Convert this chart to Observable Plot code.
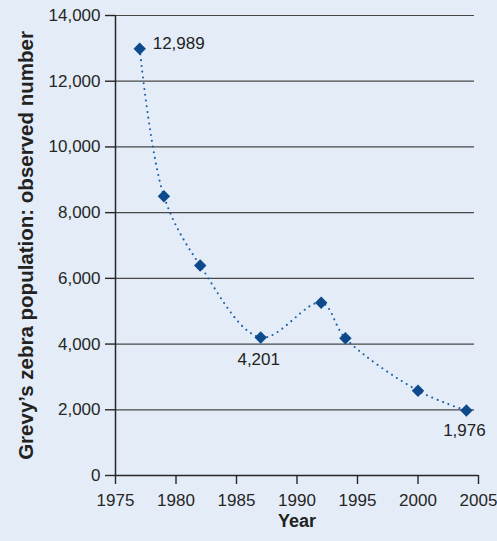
<!DOCTYPE html>
<html>
<head>
<meta charset="utf-8">
<script src="https://cdn.jsdelivr.net/npm/d3@7"></script>
<script src="https://cdn.jsdelivr.net/npm/@observablehq/plot@0.6"></script>
<style>
  html, body { margin: 0; padding: 0; background: #e4edf7; }
  #chart svg { display: block; }
</style>
</head>
<body>
<div id="chart"></div>
<script>
// ---- data ----
const years = [1977, 1979, 1982, 1987, 1992, 1994, 2000, 2004];
const population = [12989, 8500, 6390, 4201, 5260, 4175, 2580, 1976];
const yTicks = [0, 2000, 4000, 6000, 8000, 10000, 12000, 14000];
const xTicks = [1975, 1980, 1985, 1990, 1995, 2000, 2005];
const labelYears = [1977, 1987, 2004];
const labelTexts = ["12,989", "4,201", "1,976"];
const xTitle = "Year";
const yTitle = "Grevy\u2019s zebra population: observed number";

const data = years.map((year, i) => ({year, population: population[i]}));
const labelled = labelYears.map((year, i) => ({
  year,
  population: population[years.indexOf(year)],
  text: labelTexts[i]
}));

const font = "'Liberation Sans', Arial, Helvetica, sans-serif";
const markerColor = "#0d4a8c";

const chart = Plot.plot({
  width: 497,
  height: 541,
  marginLeft: 115,
  marginRight: 19,
  marginTop: 15,
  marginBottom: 66,
  style: {background: "#e4edf7", fontFamily: font, fontSize: "17px", color: "#262626"},
  x: {domain: [1975, 2005]},
  y: {domain: [0, 14000]},
  marks: [
    Plot.ruleY(yTicks.filter(d => d > 0), {stroke: "#484848", strokeWidth: 1.2, insetRight: 4}),
    Plot.axisY(yTicks, {tickSize: 10, tickPadding: 5, tickFormat: d3.format(","), label: null, stroke: "#262626", strokeWidth: 1.4, fontSize: 17}),
    Plot.axisX(xTicks, {tickSize: 9, tickPadding: 9, tickFormat: d => String(d), label: null, stroke: "#262626", strokeWidth: 1.4, fontSize: 17}),
    Plot.ruleX([xTicks[0]], {y1: yTicks[0], y2: yTicks[yTicks.length - 1], stroke: "#262626", strokeWidth: 1.5}),
    Plot.ruleY([yTicks[0]], {stroke: "#262626", strokeWidth: 1.5}),
    Plot.line(data, {x: "year", y: "population", curve: "catmull-rom", stroke: "#1a5ea8", strokeWidth: 2.1, strokeDasharray: "0,5.8", strokeLinecap: "round"}),
    Plot.dot(data, {x: "year", y: "population", symbol: "diamond2", r: 5.6, fill: markerColor, stroke: "none"}),
    Plot.text(labelled.slice(0, 1), {x: "year", y: "population", text: "text", dx: 13, dy: -5, textAnchor: "start", fill: "#222", fontSize: 17}),
    Plot.text(labelled.slice(1, 2), {x: "year", y: "population", text: "text", dx: -2, dy: 22.5, fill: "#222", fontSize: 17}),
    Plot.text(labelled.slice(2, 3), {x: "year", y: "population", text: "text", dx: -2, dy: 19.5, fill: "#222", fontSize: 17}),
    Plot.text([yTitle], {text: d => d, frameAnchor: "left", textAnchor: "middle", dx: -89, rotate: -90, fontWeight: "bold", fontSize: 20.5, fill: "#222"}),
    Plot.text([xTitle], {text: d => d, frameAnchor: "bottom", dy: 51.5, fontWeight: "bold", fontSize: 18, fill: "#222"})
  ]
});
document.getElementById("chart").appendChild(chart);
</script>
</body>
</html>
